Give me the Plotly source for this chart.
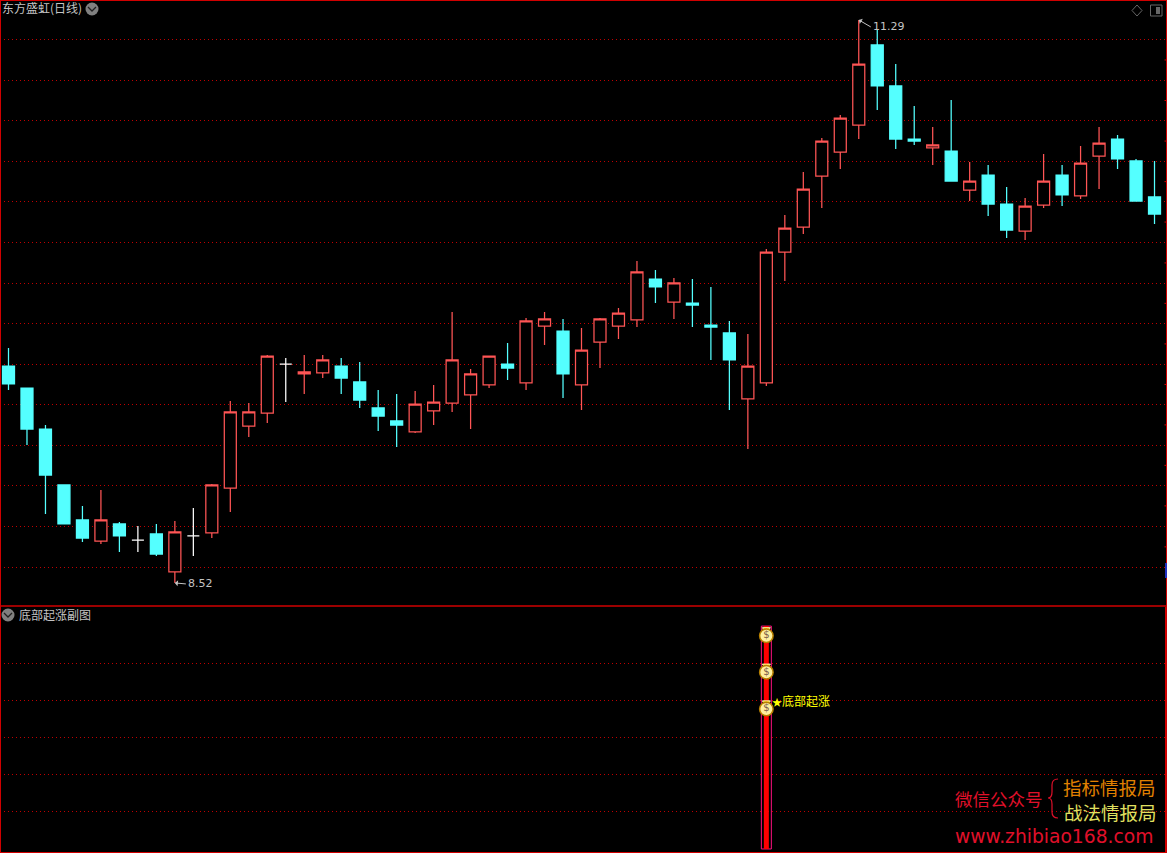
import plotly.graph_objects as go

# Daily candles of the main pane (price values)
up_idx = [5,9,11,12,13,14,16,17,22,23,24,25,26,28,29,31,32,33,34,36,40,41,42,43,44,45,46,50,52,55,56,58,59]
up_open = [8.726,8.574,8.766,8.987,9.292,9.356,9.548,9.553,9.263,9.366,9.405,9.445,9.494,9.504,9.784,9.494,9.705,9.784,9.814,9.902,9.425,9.504,10.148,10.271,10.522,10.640,10.773,10.660,10.453,10.251,10.379,10.424,10.620]
up_close = [8.830,8.771,9.002,9.361,9.361,9.636,9.558,9.617,9.400,9.410,9.617,9.548,9.636,9.809,9.819,9.666,9.819,9.848,10.050,9.996,9.587,10.148,10.266,10.458,10.694,10.807,11.073,10.675,10.497,10.374,10.497,10.586,10.684]
up_high = [8.977,8.825,9.007,9.415,9.405,9.641,9.641,9.641,9.464,9.494,9.853,9.573,9.636,9.823,9.853,9.774,9.823,9.873,10.104,10.020,9.745,10.163,10.330,10.542,10.709,10.822,11.290,10.763,10.591,10.414,10.630,10.670,10.763]
up_low = [8.712,8.520,8.741,8.869,9.238,9.307,9.450,9.528,9.258,9.297,9.361,9.277,9.479,9.469,9.691,9.371,9.577,9.720,9.779,9.819,9.179,9.489,10.005,10.237,10.365,10.557,10.704,10.576,10.399,10.207,10.365,10.409,10.458]

down_idx = [0,1,2,3,4,6,8,18,19,20,21,27,30,35,37,38,39,47,48,49,51,53,54,57,60,61,62]
down_open = [9.587,9.479,9.277,9.002,8.830,8.810,8.761,9.587,9.509,9.381,9.317,9.597,9.759,10.015,9.897,9.789,9.750,11.167,10.965,10.704,10.645,10.527,10.384,10.527,10.704,10.596,10.419]
down_close = [9.499,9.277,9.051,8.810,8.741,8.751,8.662,9.528,9.420,9.341,9.297,9.577,9.548,9.976,9.887,9.779,9.617,10.965,10.704,10.694,10.497,10.384,10.256,10.429,10.606,10.399,10.335]
down_high = [9.676,9.479,9.297,9.002,8.898,8.820,8.810,9.627,9.607,9.469,9.450,9.700,9.819,10.060,10.015,9.976,9.809,11.245,11.073,10.866,10.896,10.576,10.468,10.576,10.724,10.606,10.596]
down_low = [9.469,9.199,8.859,8.810,8.721,8.672,8.652,9.450,9.381,9.267,9.189,9.518,9.430,9.897,9.779,9.617,9.371,10.847,10.655,10.675,10.497,10.325,10.217,10.374,10.557,10.399,10.286]

flat_idx = [7,10,15]
flat_price = [8.731,8.751,9.597]
flat_high = [8.800,8.889,9.627]
flat_low = [8.672,8.652,9.410]

price_grid = [11.194,10.992,10.795,10.593,10.396,10.195,9.994,9.797,9.595,9.398,9.197,9.000,8.798,8.597]
sub_grid = [1,2,3,4,5]

signal_x = [41]
signal_base = [0]
signal_top = [6]
bag_values = [5.74,4.76,3.77]

title_main = "东方盛虹(日线)"
title_sub = "底部起涨副图"
signal_label = "<span style='font-size:10px'>★</span>底部起涨"

RED = "#ff5555"
CYAN = "#54ffff"
GRID = "#c00000"
FRAME = "#d00000"
GREY = "#c4c4c4"
CJK = "Noto Sans CJK SC"
W, H = 1167, 853
SPLIT = 606
CANDLE_W = 0.65

fig = go.Figure()

def add_candles(idx, opens, highs, lows, closes, name, color, fill):
    fig.add_trace(go.Box(x=idx, q1=[min(a, b) for a, b in zip(opens, closes)],
        median=closes, q3=[max(a, b) for a, b in zip(opens, closes)],
        lowerfence=lows, upperfence=highs, name=name, width=CANDLE_W, whiskerwidth=0,
        line=dict(color=color, width=1.25), fillcolor=fill, boxpoints=False,
        hoverinfo="skip", xaxis="x", yaxis="y", showlegend=False))

add_candles(up_idx, up_open, up_high, up_low, up_close, "up", RED, "#000000")
add_candles(down_idx, down_open, down_high, down_low, down_close, "down", CYAN, CYAN)
add_candles(flat_idx, flat_price, flat_high, flat_low, flat_price, "flat", "#ffffff", "#ffffff")

fig.add_trace(go.Bar(x=signal_x, y=signal_top, base=signal_base, width=0.54, xaxis="x2", yaxis="y2",
    marker=dict(color="rgba(0,0,0,0)", line=dict(color="#ff1080", width=1)), showlegend=False))
fig.add_trace(go.Bar(x=signal_x, y=signal_top, base=signal_base, width=0.27, xaxis="x2", yaxis="y2",
    marker=dict(color="#ff0000", line=dict(width=0)), showlegend=False))
fig.add_trace(go.Scatter(x=signal_x*3, y=[v + 0.17 for v in bag_values], mode="markers",
    marker=dict(symbol="triangle-down", size=7, color="#ffd800", line=dict(color="#fff4b0", width=1)),
    xaxis="x2", yaxis="y2", showlegend=False))
fig.add_trace(go.Scatter(x=signal_x*3, y=bag_values, mode="markers+text", text=["$"]*3,
    textposition="middle center", textfont=dict(size=10, color="#80604a", family="DejaVu Sans"),
    marker=dict(symbol="circle", size=13.5, color="#fff0a0", line=dict(color="#b88000", width=1.5)),
    xaxis="x2", yaxis="y2", showlegend=False))

x_left, x_step = 8.5, 18.484
x_range = [-x_left/x_step, (W-x_left)/x_step]
top_y = 11.388
slope = 0.00492

def px(x):
    return x / W

def py(y):
    return 1 - y / H

minor_ticks = [(a + b) / 2 for a, b in zip(price_grid, price_grid[1:])]
DOT = "1px,3px"
shapes = [
    dict(type="rect", xref="paper", yref="paper", x0=0, x1=1, y0=0, y1=1, line=dict(color=FRAME, width=2)),
    dict(type="line", xref="paper", yref="paper", x0=0, x1=1, y0=py(606), y1=py(606), line=dict(color=FRAME, width=1.5)),
    dict(type="line", xref="paper", yref="paper", x0=px(1166), x1=px(1166), y0=py(563), y1=py(578), line=dict(color="#2030c0", width=2)),
    dict(type="line", xref="paper", yref="paper", x0=px(1166), x1=px(1166), y0=py(607), y1=py(853), line=dict(color=FRAME, width=2)),
    # buttons
    dict(type="circle", xref="paper", yref="paper", x0=px(85.5), x1=px(98.5), y0=py(2.5), y1=py(15.5), fillcolor="#808080", line=dict(width=0)),
    dict(type="circle", xref="paper", yref="paper", x0=px(1.5), x1=px(14.5), y0=py(608.5), y1=py(621.5), fillcolor="#808080", line=dict(width=0)),
    dict(type="path", xref="paper", yref="paper", path=f"M {px(88)} {py(7)} L {px(92)} {py(11)} L {px(96)} {py(7)}", line=dict(color="#202020", width=1.3)),
    dict(type="path", xref="paper", yref="paper", path=f"M {px(4)} {py(613)} L {px(8)} {py(617)} L {px(12)} {py(613)}", line=dict(color="#202020", width=1.3)),
    dict(type="path", xref="paper", yref="paper", path=f"M {px(1137)} {py(5)} L {px(1142)} {py(10.5)} L {px(1137)} {py(16)} L {px(1132)} {py(10.5)} Z", line=dict(color="#666666", width=1)),
    dict(type="rect", xref="paper", yref="paper", x0=px(1150.5), x1=px(1162), y0=py(5), y1=py(16), line=dict(color="#666666", width=1)),
    dict(type="rect", xref="paper", yref="paper", x0=px(1156), x1=px(1160), y0=py(7), y1=py(14), fillcolor="#666666", line=dict(width=0)),
    # brace of the watermark
    dict(type="path", xref="paper", yref="paper",
         path=(f"M {px(1058)} {py(779)} Q {px(1052)} {py(779)} {px(1052)} {py(785)} L {px(1052)} {py(792)} "
               f"Q {px(1052)} {py(798)} {px(1048)} {py(798)} Q {px(1052)} {py(798)} {px(1052)} {py(804)} "
               f"L {px(1052)} {py(812)} Q {px(1052)} {py(818)} {px(1058)} {py(818)}"),
         line=dict(color="#e0102a", width=1.2)),
]
for t in minor_ticks:
    shapes.append(dict(type="line", xref="paper", yref="y", x0=px(1164.5), x1=1, y0=t, y1=t, line=dict(color=FRAME, width=1)))

fig.update_layout(
    width=W, height=H, margin=dict(l=0, r=0, t=0, b=0),
    paper_bgcolor="#000000", plot_bgcolor="#000000", boxmode="overlay", barmode="overlay",
    xaxis=dict(domain=[0,1], range=x_range, visible=False, anchor="y"),
    yaxis=dict(domain=[1-SPLIT/H,1], range=[top_y-slope*SPLIT, top_y], tickvals=price_grid, showticklabels=False,
               showgrid=True, gridcolor=GRID, griddash=DOT, gridwidth=1, zeroline=False, ticks=""),
    xaxis2=dict(domain=[0,1], range=x_range, visible=False, anchor="y2"),
    yaxis2=dict(domain=[0,1-SPLIT/H], range=[-4/37, 242/37], tickvals=sub_grid, showticklabels=False,
               showgrid=True, gridcolor=GRID, griddash=DOT, gridwidth=1, zeroline=False, ticks=""),
    shapes=shapes,
)

def paper_text(text, x, y, size, color, anchor="left", family=CJK):
    fig.add_annotation(xref="paper", yref="paper", x=px(x), y=py(y), text=text, showarrow=False,
                       xanchor=anchor, yanchor="middle", font=dict(size=size, color=color, family=family))

paper_text(title_main, 0, 8, 12, GREY)
paper_text(title_sub, 17, 614, 12, GREY)
paper_text("微信公众号", 953, 798, 17.5, "#e0102a")
paper_text("指标情报局", 1061, 787, 18.5, "#e08000")
paper_text("战法情报局", 1062, 812, 18.5, "#e0e060")
paper_text("www.zhibiao168.com", 953, 836, 18.7, "#e0102a", "left", "DejaVu Sans")

fig.add_annotation(x=9, y=8.52, xref="x", yref="y", text="8.52", ax=11, ay=1, xanchor="left", yanchor="middle",
                   arrowcolor=GREY, arrowwidth=1, arrowhead=1, arrowsize=1, font=dict(size=11, color=GREY, family="DejaVu Sans"))
fig.add_annotation(x=46, y=11.29, xref="x", yref="y", text="11.29", ax=12, ay=7, xanchor="left", yanchor="middle",
                   arrowcolor=GREY, arrowwidth=1, arrowhead=1, arrowsize=1, font=dict(size=11, color=GREY, family="DejaVu Sans"))
fig.add_annotation(x=41, y=4, xref="x2", yref="y2", text=signal_label, showarrow=False, xanchor="left", xshift=4, yanchor="middle",
                   font=dict(size=12, color="#ffff00", family=CJK))

fig.write_html("out.html", config={"displayModeBar": False},
               post_script="document.body.style.margin='0';document.body.style.background='#000';")
